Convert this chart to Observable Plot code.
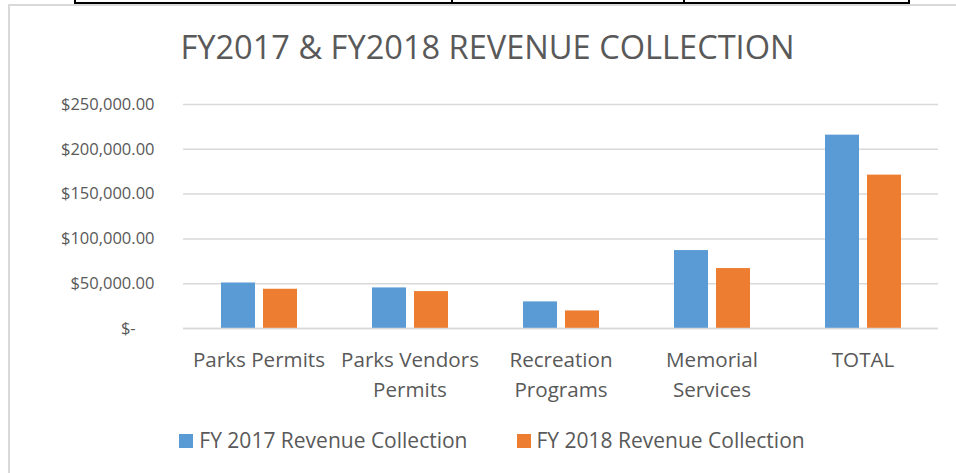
<!DOCTYPE html>
<html>
<head>
<meta charset="utf-8">
<script src="https://cdn.jsdelivr.net/npm/d3@7"></script>
<script src="https://cdn.jsdelivr.net/npm/@observablehq/plot@0.6"></script>
<style>
  html, body { margin: 0; padding: 0; background: #fff; }
  body { width: 956px; height: 473px; overflow: hidden; position: relative; font-family: "Open Sans", sans-serif; color: #595959; }
  #frame { position: absolute; left: 8px; top: 4px; width: 1100px; height: 600px; border-left: 2px solid #d9d9d9; border-top: 2px solid #d9d9d9; }
  #tline { position: absolute; left: 74px; top: 2px; width: 836px; height: 2px; background: #000; }
  .tv { position: absolute; top: 0; width: 2px; height: 4px; background: #000; }
  #title { position: absolute; left: 0; top: 31px; width: 975px; text-align: center; font-size: 32.6px; line-height: 32px; color: #595959; white-space: nowrap; }
  #chart { position: absolute; left: 0; top: 85px; }
  #legend { position: absolute; left: 0; top: 430px; width: 984px; display: flex; justify-content: center; font-size: 21px; line-height: 21px; color: #595959; white-space: nowrap; }
  .item { display: flex; align-items: center; }
  .item + .item { margin-left: 49px; }
  .sw { width: 14px; height: 14px; margin-right: 6px; }
</style>
</head>
<body>
<div id="frame"></div>
<div id="tline"></div>
<div class="tv" style="left:74px"></div>
<div class="tv" style="left:451px"></div>
<div class="tv" style="left:683px"></div>
<div class="tv" style="left:908px"></div>
<div id="title">FY2017 &amp; FY2018 REVENUE COLLECTION</div>
<div id="chart"></div>
<div id="legend"></div>
<script>
// ---- data ----
const categories = ["Parks Permits", "Parks Vendors Permits", "Recreation Programs", "Memorial Services", "TOTAL"];
const categoryLabels = ["Parks Permits", "Parks Vendors\nPermits", "Recreation\nPrograms", "Memorial\nServices", "TOTAL"];
const seriesNames = ["FY 2017 Revenue Collection", "FY 2018 Revenue Collection"];
const fy2017 = [50800, 45300, 29700, 87000, 215800];
const fy2018 = [43800, 41200, 19600, 66900, 171200];
const yTicks = [0, 50000, 100000, 150000, 200000, 250000];
const colors = ["#5b9bd5", "#ed7d31"];

const rows = [];
categories.forEach((c, i) => {
  rows.push({category: c, series: seriesNames[0], value: fy2017[i]});
  rows.push({category: c, series: seriesNames[1], value: fy2018[i]});
});
const labelOf = new Map(categories.map((c, i) => [c, categoryLabels[i]]));
const fmt = d3.format(",.2f");

const chart = Plot.plot({
  width: 956,
  height: 320,
  marginLeft: 181,
  marginRight: 17,
  marginTop: 19,
  marginBottom: 77,
  style: {fontFamily: "'Open Sans', sans-serif", color: "#595959", background: "transparent", overflow: "visible"},
  fx: {domain: categories, paddingInner: 0, paddingOuter: 0, label: null},
  x: {domain: seriesNames, paddingInner: 0.2, paddingOuter: 0.864, axis: null, label: null},
  y: {domain: [0, 250000], label: null},
  color: {domain: seriesNames, range: colors},
  marks: [
    Plot.ruleY(yTicks, {stroke: "#d9d9d9", strokeWidth: 1.5}),
    Plot.barY(rows, {fx: "category", x: "series", y: "value", fill: "series"}),
    Plot.ruleY([0], {stroke: "#d9d9d9", strokeWidth: 1.5}),
    Plot.axisY(yTicks, {tickSize: 0, tickPadding: 29, fontSize: 16.5, fill: "#595959",
      tickFormat: d => d === 0 ? "$-\u2007\u2007" : "$" + fmt(d), label: null}),
    Plot.axisFx({anchor: "bottom", tickSize: 0, tickPadding: 17, fontSize: 20.6, lineHeight: 30 / 20.6,
      fill: "#595959", tickFormat: d => labelOf.get(d), label: null})
  ]
});
document.getElementById("chart").appendChild(chart);

const legend = document.getElementById("legend");
seriesNames.forEach((s, i) => {
  const it = document.createElement("div");
  it.className = "item";
  const sw = document.createElement("div");
  sw.className = "sw";
  sw.style.background = colors[i];
  const t = document.createElement("span");
  t.textContent = s;
  it.appendChild(sw);
  it.appendChild(t);
  legend.appendChild(it);
});
</script>
</body>
</html>
